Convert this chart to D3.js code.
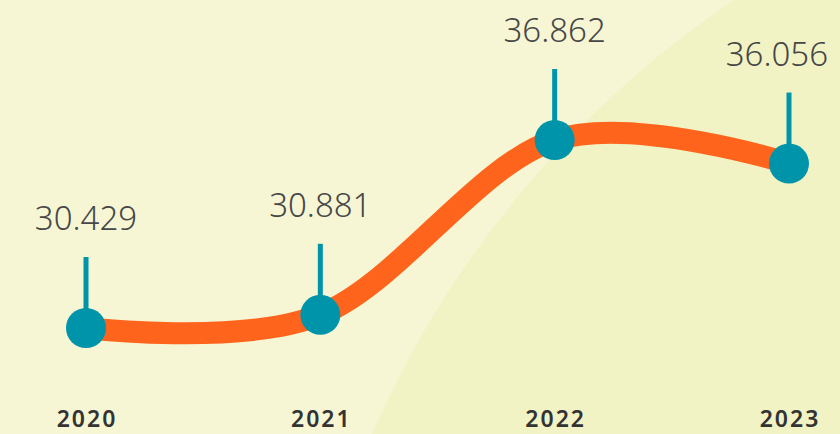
<!DOCTYPE html>
<html>
<head>
<meta charset="utf-8">
<script src="https://cdn.jsdelivr.net/npm/d3@7"></script>
<style>
  html, body { margin: 0; padding: 0; background: #f6f6d4; }
  svg { display: block; }
</style>
</head>
<body>
<div id="chart"></div>
<script>
const years = ["2020", "2021", "2022", "2023"];
const values = [30.429, 30.881, 36.862, 36.056];
const labels = ["30.429", "30.881", "36.862", "36.056"];

const width = 840;
const height = 434;

const data = years.map((y, i) => ({ year: y, value: values[i], label: labels[i] }));

const svg = d3.select("#chart")
    .append("svg")
    .attr("width", width)
    .attr("height", height);

svg.append("rect")
    .attr("width", width)
    .attr("height", height)
    .attr("fill", "#f6f6d4");

// big soft circle in the background
svg.append("circle")
    .attr("cx", 1300)
    .attr("cy", 840)
    .attr("r", 1013)
    .attr("fill", "#f1f3c4");

const x = d3.scalePoint()
    .domain(years)
    .range([86, 789]);

const y = d3.scaleLinear()
    .domain([30.429, 36.862])
    .range([328, 140]);

const line = d3.line()
    .x(d => x(d.year))
    .y(d => y(d.value))
    .curve(d3.curveCardinal.tension(0));

svg.append("path")
    .datum(data)
    .attr("d", line)
    .attr("fill", "none")
    .attr("stroke", "#ff641c")
    .attr("stroke-width", 22)
    .attr("stroke-linecap", "round");

const stemLen = 71;

svg.selectAll("line.stem")
    .data(data)
    .enter()
    .append("line")
    .attr("class", "stem")
    .attr("x1", d => x(d.year))
    .attr("x2", d => x(d.year))
    .attr("y1", d => y(d.value))
    .attr("y2", d => y(d.value) - stemLen)
    .attr("stroke", "#0094aa")
    .attr("stroke-width", 5);

svg.selectAll("circle.dot")
    .data(data)
    .enter()
    .append("circle")
    .attr("class", "dot")
    .attr("cx", d => x(d.year))
    .attr("cy", d => y(d.value))
    .attr("r", 20)
    .attr("fill", "#0094aa");

const valueText = svg.selectAll("text.val")
    .data(data)
    .enter()
    .append("text")
    .attr("class", "val")
    .text(d => d.label)
    .attr("x", d => x(d.year))
    .attr("y", d => y(d.value) - stemLen - 27)
    .attr("text-anchor", "middle")
    .style("font-family", "'Noto Sans', sans-serif")
    .style("font-weight", 300)
    .style("font-size", "33px")
    .attr("fill", "#474747");

// keep labels inside the frame
valueText.each(function(d) {
    const w = this.getComputedTextLength();
    const cx = Math.min(x(d.year), width - 12 - w / 2);
    d3.select(this).attr("x", cx);
});

svg.selectAll("text.year")
    .data(data)
    .enter()
    .append("text")
    .attr("class", "year")
    .text(d => d.year)
    .attr("x", d => x(d.year) + 1)
    .attr("y", 427)
    .attr("text-anchor", "middle")
    .style("font-family", "'Noto Sans', sans-serif")
    .style("font-weight", 600)
    .style("font-size", "23px")
    .style("letter-spacing", "2px")
    .attr("fill", "#333333");
</script>
</body>
</html>
